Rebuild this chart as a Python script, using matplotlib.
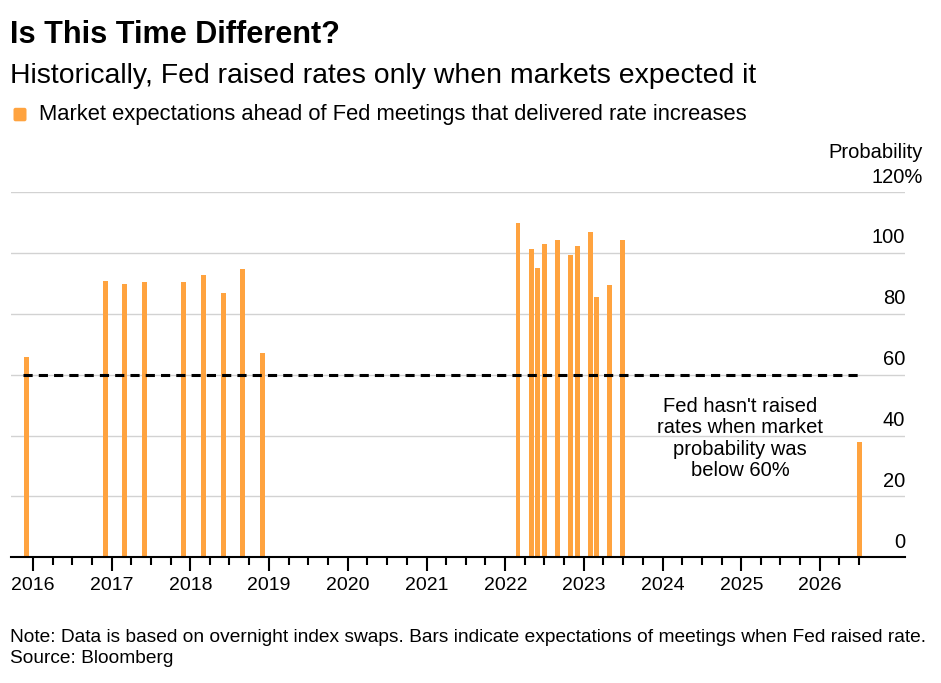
import matplotlib
matplotlib.use("Agg")
import matplotlib.pyplot as plt
import matplotlib.dates as mdates
import matplotlib.ticker as mticker
from matplotlib.patches import FancyBboxPatch
from matplotlib.transforms import IdentityTransform, blended_transform_factory
import pandas as pd

# ---------------- data ----------------
meeting_months = ["2015-12-01", "2016-12-01", "2017-03-01", "2017-06-01", "2017-12-01",
                  "2018-03-01", "2018-06-01", "2018-09-01", "2018-12-01",
                  "2022-03-01", "2022-05-01", "2022-06-01", "2022-07-01", "2022-09-01",
                  "2022-11-01", "2022-12-01", "2023-02-01", "2023-03-01", "2023-05-01",
                  "2023-07-01", "2026-07-01"]
probabilities = [65.9, 90.8, 90.0, 90.4, 90.4, 92.9, 86.8, 94.8, 67.2,
                 110.0, 101.2, 95.0, 103.0, 104.3, 99.4, 102.4, 106.9, 85.6, 89.6,
                 104.4, 37.8]
threshold = 60
year_ticks = list(range(2016, 2027))
year_labels = [str(y) for y in year_ticks]
y_ticks = [0, 20, 40, 60, 80, 100, 120]

title = "Is This Time Different?"
subtitle = "Historically, Fed raised rates only when markets expected it"
legend_label = "Market expectations ahead of Fed meetings that delivered rate increases"
annotation = "Fed hasn't raised\nrates when market\nprobability was\nbelow 60%"
note = "Note: Data is based on overnight index swaps. Bars indicate expectations of meetings when Fed raised rate."
source = "Source: Bloomberg"

# ---------------- style ----------------
plt.rcParams['font.family'] = ['Liberation Sans', 'DejaVu Sans']
ORANGE = "#ffa33f"
W, H = 941, 683
YFS = 14.5

fig = plt.figure(figsize=(W / 100, H / 100), dpi=100)
ax_left, ax_right, ax_top, ax_bottom = 11, 905, 192.3, 557.3
ax = fig.add_axes([ax_left / W, 1 - ax_bottom / H, (ax_right - ax_left) / W, (ax_bottom - ax_top) / H])

dates = pd.to_datetime(meeting_months)
ax.bar(dates, probabilities, width=23, color=ORANGE, zorder=2, linewidth=0)

line_start = dates[0] - pd.Timedelta(days=14)
line_end = dates[-1]
ax.plot([line_start, line_end], [threshold, threshold], color="black", lw=2.2,
        dashes=(3, 2), zorder=3, solid_capstyle="butt", dash_capstyle="butt")

ax.set_ylim(0, 120)
ax.set_xlim(pd.Timestamp("2015-09-21"), pd.Timestamp("2027-01-30"))

# gridlines
for v in y_ticks[1:]:
    ax.axhline(v, color="#d2d2d2", lw=1.0, zorder=0.5)

# spines
for s in ["top", "right", "left"]:
    ax.spines[s].set_visible(False)
ax.spines["bottom"].set_linewidth(1.5)
ax.spines["bottom"].set_color("black")
ax.spines["bottom"].set_zorder(4)

# x ticks
major = [mdates.date2num(pd.Timestamp(f"{y}-01-01")) for y in year_ticks]
minor_dates = pd.date_range("2016-01-01", "2026-07-01", freq="QS")
ax.xaxis.set_major_locator(mticker.FixedLocator(major))
ax.xaxis.set_minor_locator(mticker.FixedLocator(mdates.date2num(minor_dates)))
ax.xaxis.set_major_formatter(mticker.FixedFormatter(year_labels))
ax.tick_params(axis="x", which="major", length=10, width=1.5, pad=4.5,
               labelsize=14, color="black", labelcolor="black")
ax.tick_params(axis="x", which="minor", length=6, width=1.5, color="black")

# y labels (right side, above gridlines)
ax.set_yticks([])
trans = blended_transform_factory(ax.transAxes, ax.transData)
pct_width = 0.889 * YFS
for v in y_ticks:
    label = f"{v}%" if v == y_ticks[-1] else str(v)
    dx = pct_width if v == y_ticks[-1] else 0
    ax.annotate(label, xy=(1, v), xycoords=trans, xytext=(dx, 7), textcoords="offset points",
                ha="right", va="baseline", fontsize=YFS, color="black")
fig.text(922.5 / W, 1 - 158.3 / H, "Probability", ha="right", va="baseline", fontsize=YFS)

# annotation
ax.text(pd.Timestamp("2024-12-25"), 39.1, annotation, ha="center", va="center",
        fontsize=14.5, linespacing=1.16, zorder=5)

# header
fig.text(10 / W, 1 - 42.7 / H, title, ha="left", va="baseline", fontsize=22.1, fontweight="bold")
fig.text(10 / W, 1 - 83 / H, subtitle, ha="left", va="baseline", fontsize=20.4)
fig.text(39 / W, 1 - 120 / H, legend_label, ha="left", va="baseline", fontsize=15.85)
sq = FancyBboxPatch((13.5, H - 121.3), 13, 13.5, boxstyle="round,pad=0,rounding_size=2",
                    facecolor=ORANGE, edgecolor="none", transform=IdentityTransform())
fig.add_artist(sq)

# footer
fig.text(10.5 / W, 1 - 641.7 / H, note, ha="left", va="baseline", fontsize=13.8)
fig.text(10.5 / W, 1 - 662.7 / H, source, ha="left", va="baseline", fontsize=13.8)

fig.savefig("out.png", dpi=100)
